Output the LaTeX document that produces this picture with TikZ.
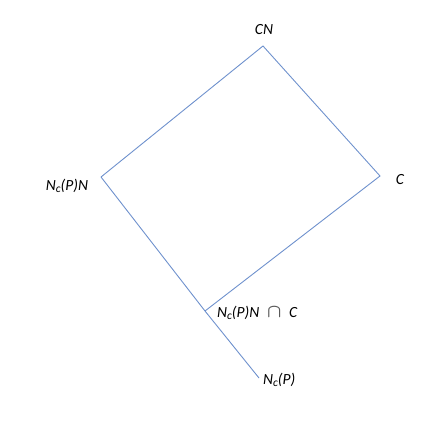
\documentclass[tikz,border=0pt]{standalone}
\usepackage{fontspec}
\setmainfont{Carlito}
\newcommand{\subc}{\raisebox{-0.25ex}{\fontsize{11.5}{13}\selectfont c}}
\begin{document}
\begin{tikzpicture}[x=1pt,y=1pt,
  edge/.style={draw={rgb,255:red,110;green,145;blue,205},line width=0.9pt},
  lbl/.style={inner sep=0pt,font=\fontsize{15.5}{18}\selectfont\itshape}]
\useasboundingbox (0,0) rectangle (428,420);
\coordinate (CN) at (263,374);
\coordinate (C) at (380,244);
\coordinate (L) at (101,243);
\coordinate (I) at (205,109);
\coordinate (B) at (259,42);
\draw[edge] (L) -- (CN) -- (C) -- (I);
\draw[edge] (L) -- (I) -- (B);
\node[lbl] (tCN) at (264,390) {CN};
\node[lbl] (tC) at (400,240) {C};
\node[lbl] (tL) at (67,234) {N\subc(P)N};
\node[lbl,anchor=west] (tI) at (217,107) {N\subc(P)N\hspace{0.5em}{\upshape\color{black!65}\boldmath\scalebox{1.3}{$\cap$}}\hspace{0.5em}C};
\node[lbl,anchor=west] (tB) at (263,40) {N\subc(P)};
\end{tikzpicture}
\end{document}
